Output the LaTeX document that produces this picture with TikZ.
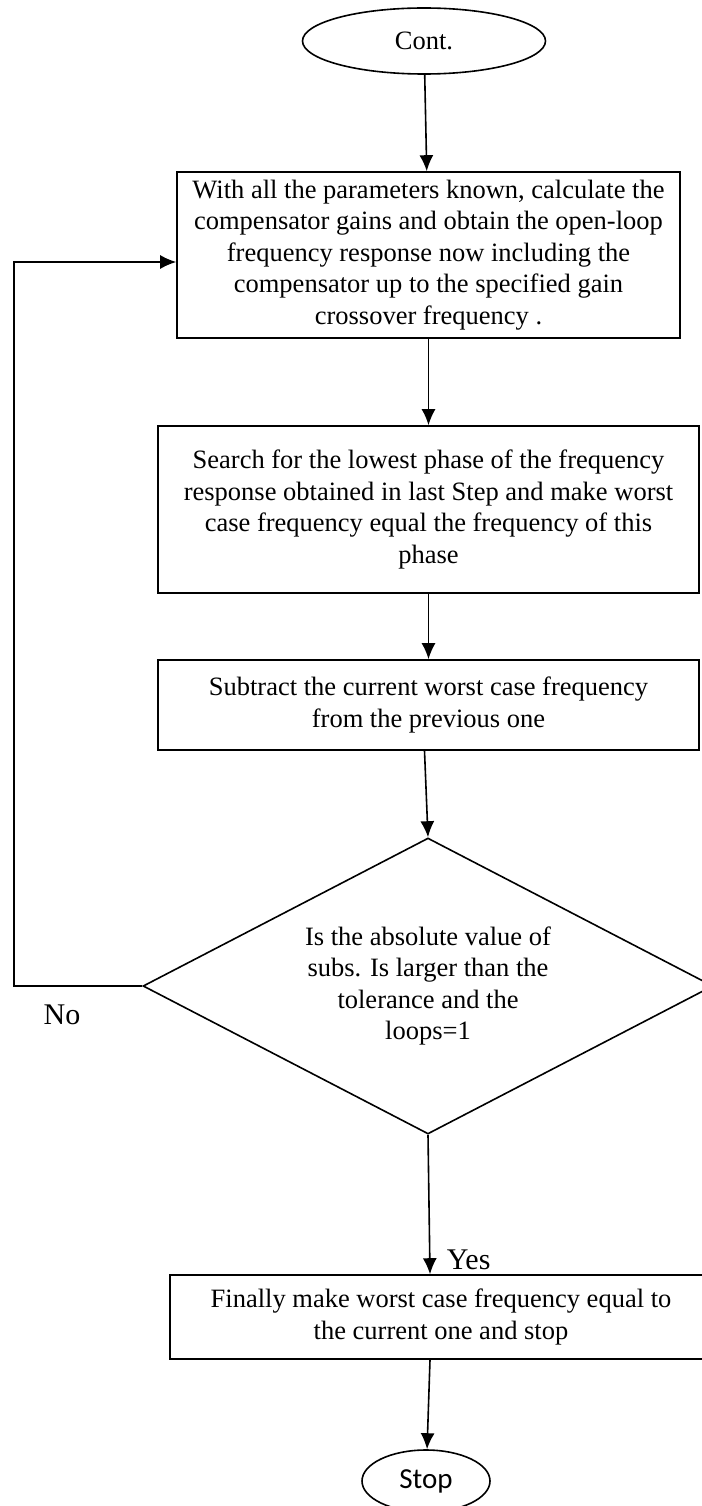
\documentclass[tikz,border=0pt]{standalone}
\usepackage{fontspec}
\setmainfont{Liberation Serif}
\newfontfamily\calibrifont{Carlito}
\usetikzlibrary{shapes.geometric}
\usetikzlibrary{arrows.meta}

\begin{document}
\begin{tikzpicture}[x=1pt,y=-1pt,line width=1.6pt,>={Latex[length=16pt,width=14pt]},
  font=\fontsize{26.5}{31.5}\selectfont,
  stepbox/.style={rectangle,draw,align=center,inner sep=0pt},
  terminal/.style={ellipse,draw,inner sep=0pt},
  decision/.style={diamond,draw,align=center,inner sep=0pt,aspect=1.93}]
\useasboundingbox (0,0) rectangle (701,1506);
\node [terminal,minimum width=243pt,minimum height=66pt] (cont) at (424,41) {Cont.};
\node [stepbox,minimum width=503pt,minimum height=166pt] (box1) at (428.5,255) {With all the parameters known, calculate the\\compensator gains and obtain the open-loop\\frequency response now including the\\compensator up to the specified gain\\crossover frequency .};
\node [stepbox,minimum width=541pt,minimum height=167pt] (box2) at (428.5,509.5) {Search for the lowest phase of the frequency\\response obtained in last Step and make worst\\case frequency equal the frequency of this\\phase};
\node [stepbox,minimum width=541pt,minimum height=90pt] (box3) at (428.5,705) {Subtract the current worst case frequency\\from the previous one};
\node [decision,minimum width=570pt,minimum height=296pt] (dec) at (428,986) {Is the absolute value of\\subs. Is larger than the\\tolerance and the\\loops=1};
\node [stepbox,minimum width=542pt,minimum height=84pt] (box4) at (441,1317) {Finally make worst case frequency equal to\\the current one and stop};
\node [terminal,minimum width=128pt,minimum height=62pt,font=\calibrifont\fontsize{29}{34}\selectfont] (stop) at (426,1481) {Stop};

\draw [->] (cont) -- (box1);
\draw [->] (box1) -- (box2);
\draw [->] (box2) -- (box3);
\draw [->] ([xshift=-4pt]box3.south) -- (dec.north);
\draw [->] (dec.west) -- ++(-128,0) |- ([yshift=-7pt]box1.west);
\node [font=\fontsize{30}{36}\selectfont] (no) at (62,1015) {No};
\draw [->] (dec.south) -- ([xshift=2pt]dec.south |- box4.north) node [right,font=\fontsize{30}{36}\selectfont,inner sep=0pt,xshift=16pt,yshift=14pt] (yes) {Yes};
\draw [->] ([xshift=-11pt]box4.south) -- (stop);
\end{tikzpicture}
\end{document}
